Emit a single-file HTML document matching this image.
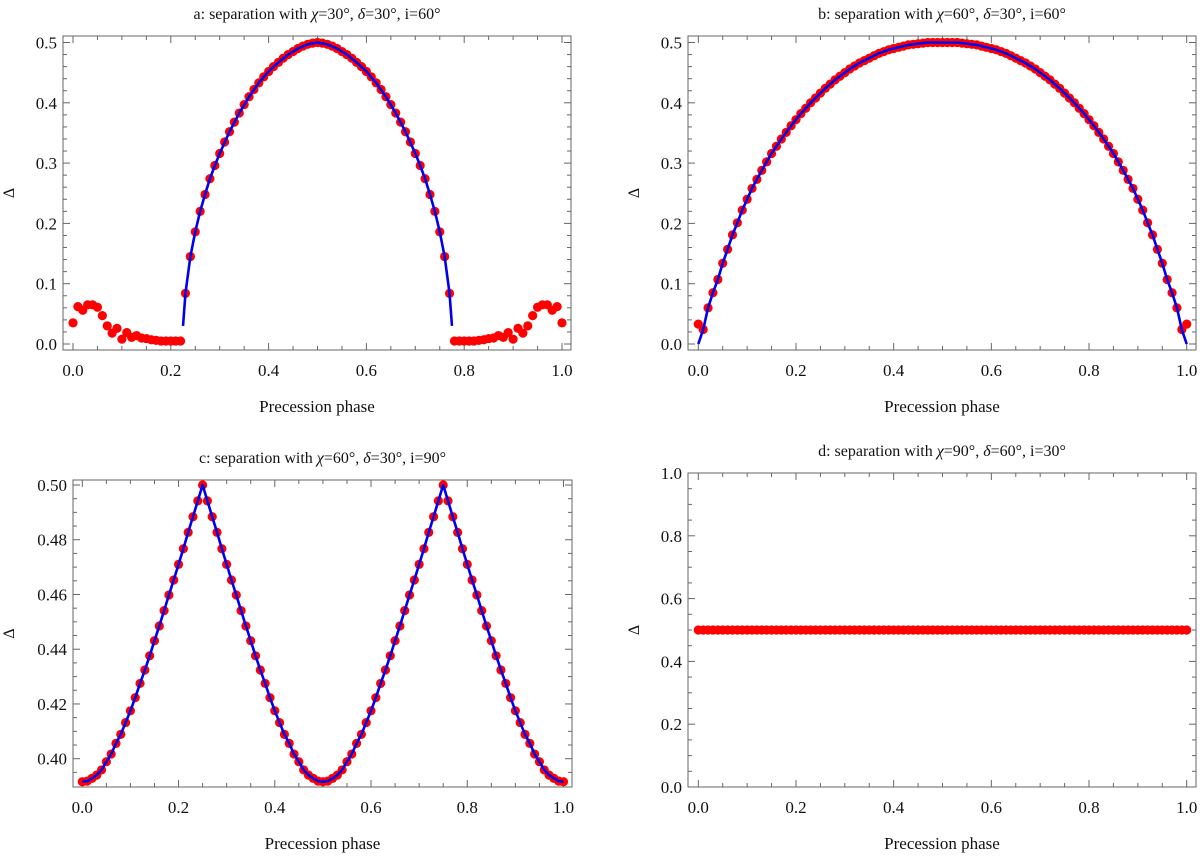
<!DOCTYPE html>
<html><head><meta charset="utf-8"><style>
html,body{margin:0;padding:0;background:#fff;}
svg{display:block;font-family:"Liberation Serif","DejaVu Serif",serif;}
</style></head><body>
<svg id="fig" width="1200" height="856" viewBox="0 0 1200 856" xmlns="http://www.w3.org/2000/svg"></svg>
<script>
// ---------- data ----------
const phaseCount = 101; // phases 0.00..1.00 step 0.01
const seriesA = [
0.035,0.062,0.056,0.065,0.065,0.061,0.047,0.030,0.018,0.026,
0.008,0.019,0.011,0.014,0.010,0.009,0.007,0.006,0.005,0.005,
0.005,0.005,0.005,0.084,0.145,0.186,0.220,0.248,0.274,0.296,
0.316,0.335,0.352,0.368,0.383,0.397,0.410,0.422,0.433,0.443,
0.452,0.460,0.467,0.474,0.480,0.485,0.490,0.494,0.497,0.499,
0.500,
0.499,0.497,0.494,0.490,0.485,0.480,0.474,0.467,0.460,0.452,
0.443,0.433,0.422,0.410,0.397,0.383,0.368,0.352,0.335,0.316,
0.296,0.274,0.248,0.220,0.186,0.145,0.084,0.005,0.005,0.005,
0.005,0.005,0.006,0.007,0.009,0.010,0.014,0.011,0.019,0.008,
0.026,0.018,0.030,0.047,0.061,0.065,0.065,0.056,0.062,0.035];
const lineAX = [0.225,0.23,0.24,0.25,0.26,0.27,0.28,0.29,0.30,0.32,0.34,0.36,0.38,0.40,0.42,0.44,0.46,0.48,0.50,0.52,0.54,0.56,0.58,0.60,0.62,0.64,0.66,0.68,0.70,0.71,0.72,0.73,0.74,0.75,0.76,0.77,0.775];
const lineAY = [0.030,0.084,0.145,0.186,0.220,0.248,0.274,0.296,0.316,0.352,0.383,0.410,0.433,0.452,0.467,0.480,0.490,0.497,0.500,0.497,0.490,0.480,0.467,0.452,0.433,0.410,0.383,0.352,0.316,0.296,0.274,0.248,0.220,0.186,0.145,0.084,0.030];
const seriesB = [
0.033,0.024,0.060,0.085,0.107,0.134,0.157,0.181,0.201,0.222,
0.240,0.258,0.273,0.288,0.302,0.316,0.328,0.340,0.351,0.362,
0.372,0.382,0.391,0.400,0.408,0.416,0.424,0.431,0.438,0.444,
0.450,0.456,0.461,0.466,0.470,0.474,0.478,0.482,0.485,0.488,
0.490,0.492,0.494,0.496,0.497,0.498,0.499,0.500,0.500,0.500,
0.500,
0.500,0.500,0.500,0.499,0.498,0.497,0.496,0.494,0.492,0.490,
0.488,0.485,0.482,0.478,0.474,0.470,0.466,0.461,0.456,0.450,
0.444,0.438,0.431,0.424,0.416,0.408,0.400,0.391,0.382,0.372,
0.362,0.351,0.340,0.328,0.316,0.302,0.288,0.273,0.258,0.240,
0.222,0.201,0.181,0.157,0.134,0.107,0.085,0.060,0.024,0.033];
const lineBEnds = [0.0, 0.0];
const seriesC = [
0.3916,0.3918,0.3928,0.394,0.3959,0.3989,0.4017,0.4056,0.4089,0.4132,
0.4175,0.4223,0.4275,0.4324,0.4376,0.4431,0.4485,0.4541,0.4598,0.4653,
0.471,0.4767,0.4827,0.4884,0.4942,0.5,
0.4942,0.4884,0.4827,0.4767,0.471,0.4653,0.4598,0.4541,0.4485,0.4431,
0.4376,0.4324,0.4275,0.4223,0.4175,0.4132,0.4089,0.4056,0.4017,0.3989,
0.3959,0.394,0.3928,0.3918,0.3916,
0.3918,0.3928,0.394,0.3959,0.3989,0.4017,0.4056,0.4089,0.4132,0.4175,
0.4223,0.4275,0.4324,0.4376,0.4431,0.4485,0.4541,0.4598,0.4653,0.471,
0.4767,0.4827,0.4884,0.4942,0.5,
0.4942,0.4884,0.4827,0.4767,0.471,0.4653,0.4598,0.4541,0.4485,0.4431,
0.4376,0.4324,0.4275,0.4223,0.4175,0.4132,0.4089,0.4056,0.4017,0.3989,
0.3959,0.394,0.3928,0.3918,0.3916];
const seriesD = [
0.5,0.5,0.5,0.5,0.5,0.5,0.5,0.5,0.5,0.5,
0.5,0.5,0.5,0.5,0.5,0.5,0.5,0.5,0.5,0.5,
0.5,0.5,0.5,0.5,0.5,0.5,0.5,0.5,0.5,0.5,
0.5,0.5,0.5,0.5,0.5,0.5,0.5,0.5,0.5,0.5,
0.5,0.5,0.5,0.5,0.5,0.5,0.5,0.5,0.5,0.5,
0.5,0.5,0.5,0.5,0.5,0.5,0.5,0.5,0.5,0.5,
0.5,0.5,0.5,0.5,0.5,0.5,0.5,0.5,0.5,0.5,
0.5,0.5,0.5,0.5,0.5,0.5,0.5,0.5,0.5,0.5,
0.5,0.5,0.5,0.5,0.5,0.5,0.5,0.5,0.5,0.5,
0.5,0.5,0.5,0.5,0.5,0.5,0.5,0.5,0.5,0.5,
0.5];
const xTickLabels = ["0.0","0.2","0.4","0.6","0.8","1.0"];
const yTicksA = ["0.0","0.1","0.2","0.3","0.4","0.5"];
const yTicksC = ["0.40","0.42","0.44","0.46","0.48","0.50"];
const yTicksD = ["0.0","0.2","0.4","0.6","0.8","1.0"];

// ---------- drawing ----------
const NS = "http://www.w3.org/2000/svg";
const svg = document.getElementById("fig");
function mk(tag, attrs, parent){
  const e = document.createElementNS(NS, tag);
  for (const k in attrs) e.setAttribute(k, attrs[k]);
  (parent||svg).appendChild(e);
  return e;
}
function panel(cfg){
  const g = mk("g", {});
  
  
  const sx = v => cfg.x0 + (v - 0) * (cfg.x1 - cfg.x0);
  const sy = v => cfg.py0 + (v - cfg.v0) / (cfg.v1 - cfg.v0) * (cfg.py1 - cfg.py0);
  const F = cfg.frame;
  const fr = mk("rect", {x:F[0], y:F[1], width:F[2]-F[0], height:F[3]-F[1], fill:"none", stroke:"#666", "stroke-width":1}, g);
  
  
  // x ticks
  for (let i = 0; i <= 20; i++){
    const v = i * 0.05, px = sx(v), major = (i % 4 === 0), L = major ? 7 : 4;
    mk("line", {x1:px, y1:F[3], x2:px, y2:F[3]-L, stroke:"#666", "stroke-width":1}, g);
    mk("line", {x1:px, y1:F[1], x2:px, y2:F[1]+L, stroke:"#666", "stroke-width":1}, g);
  }
  xTickLabels.forEach((t, i) => {
    const tx = mk("text", {x:sx(i*0.2), y:F[3]+26, "font-size":17, "text-anchor":"middle", fill:"#111"}, g);
    tx.textContent = t;
    
    
  });
  // y ticks
  const nMinor = Math.round((cfg.v1 - cfg.v0) / cfg.minor);
  for (let i = 0; i <= nMinor + 2; i++){
    const v = cfg.v0 + i * cfg.minor - cfg.minor;
    const py = sy(v);
    if (py < F[1] - 0.5 || py > F[3] + 0.5) continue;
    const major = Math.abs(Math.round((v - cfg.v0) / cfg.major) * cfg.major - (v - cfg.v0)) < 1e-6;
    const L = major ? 7 : 4;
    mk("line", {x1:F[0], y1:py, x2:F[0]+L, y2:py, stroke:"#666", "stroke-width":1}, g);
    mk("line", {x1:F[2], y1:py, x2:F[2]-L, y2:py, stroke:"#666", "stroke-width":1}, g);
  }
  cfg.yLabels.forEach((t) => {
    const ty = mk("text", {x:F[0]-6, y:sy(parseFloat(t))+6, "font-size":17, "text-anchor":"end", fill:"#111"}, g);
    ty.textContent = t;
    
    
  });
  // titles
  const title = mk("text", {x:(F[0]+F[2])/2, y:F[1]-17, "font-size":16, "text-anchor":"middle", fill:"#111"}, g);
  title.innerHTML = cfg.title;
  
  
  const xl = mk("text", {x:(F[0]+F[2])/2, y:F[3]+62, "font-size":17, "text-anchor":"middle", fill:"#111"}, g);
  xl.textContent = "Precession phase";
  
  
  const yl = mk("text", {x:0, y:0, "font-size":16, "text-anchor":"middle", fill:"#111", transform:`translate(${cfg.ylx},${(F[1]+F[3])/2}) rotate(-90)`}, g);
  yl.textContent = "Δ";
  
  
  // points
  cfg.data.forEach((v, i) => {
    const c = mk("circle", {cx:sx(i/(phaseCount-1)), cy:sy(v), r:4.6, fill:"#ff0000"}, g);
    
    
  });
  // model line
  if (cfg.lineX){
    const d = cfg.lineX.map((x, i) => (i ? "L" : "M") + sx(x).toFixed(2) + "," + sy(cfg.lineY[i]).toFixed(2)).join("");
    const p = mk("path", {d:d, fill:"none", stroke:"#0000ee", "stroke-width":2.6, "stroke-linejoin":"round"}, g);
    
    
  }
}
const phases = seriesA.map((_, i) => i/(phaseCount-1));
const lineBY = seriesB.map((v, i) => i === 0 ? lineBEnds[0] : (i === phaseCount-1 ? lineBEnds[1] : v));

panel({name:"panel-a", frame:[63,36,571,350], x0:73, x1:562, v0:0, v1:0.5, py0:344, py1:42.5,
  major:0.1, minor:0.02, yLabels:yTicksA, ylx:14, data:seriesA, lineX:lineAX, lineY:lineAY,
  title:'a: separation with <tspan font-style="italic">χ</tspan>=30°, <tspan font-style="italic">δ</tspan>=30°, i=60°'});
panel({name:"panel-b", frame:[688,36,1196,350], x0:698.3, x1:1186.7, v0:0, v1:0.5, py0:344, py1:42.5,
  major:0.1, minor:0.02, yLabels:yTicksA, ylx:639, data:seriesB, lineX:phases, lineY:lineBY,
  title:'b: separation with <tspan font-style="italic">χ</tspan>=60°, <tspan font-style="italic">δ</tspan>=30°, i=60°'});
panel({name:"panel-c", frame:[73,480,572,787], x0:82.3, x1:563.5, v0:0.40, v1:0.50, py0:758.7, py1:485,
  major:0.02, minor:0.005, yLabels:yTicksC, ylx:14, data:seriesC, lineX:phases, lineY:seriesC,
  title:'c: separation with <tspan font-style="italic">χ</tspan>=60°, <tspan font-style="italic">δ</tspan>=30°, i=90°'});
panel({name:"panel-d", frame:[688,473,1196,787], x0:698.3, x1:1186.7, v0:0, v1:1, py0:787, py1:473,
  major:0.2, minor:0.05, yLabels:yTicksD, ylx:639, data:seriesD,
  title:'d: separation with <tspan font-style="italic">χ</tspan>=90°, <tspan font-style="italic">δ</tspan>=60°, i=30°'});
</script>
</body></html>
